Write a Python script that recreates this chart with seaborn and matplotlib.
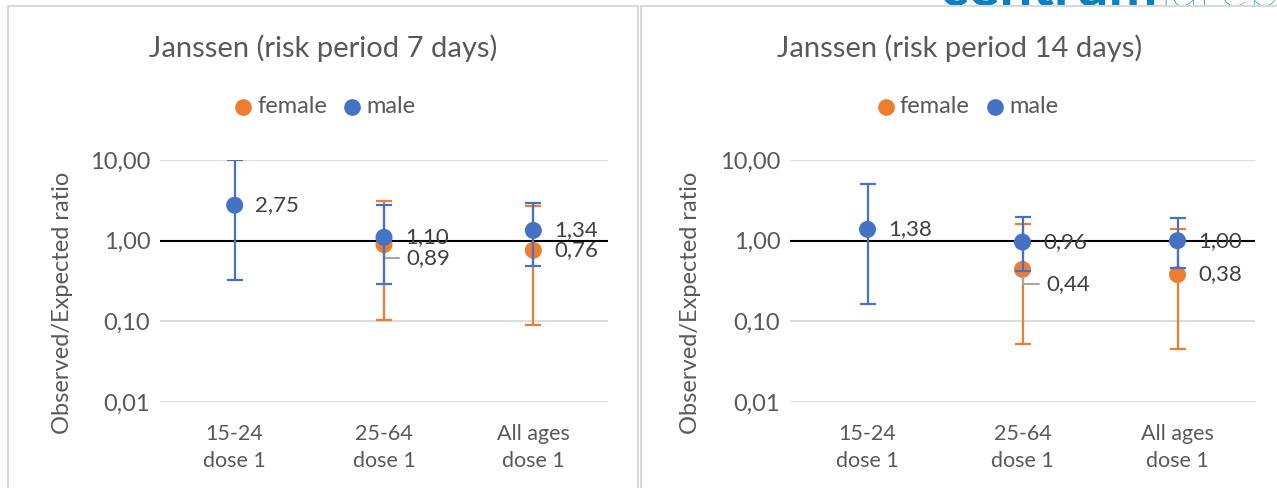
import numpy as np
import pandas as pd
import matplotlib
matplotlib.use("Agg")
import matplotlib.pyplot as plt
import seaborn as sns
from matplotlib.lines import Line2D

# ---------------- data ----------------
categories = ["15-24\ndose 1", "25-64\ndose 1", "All ages\ndose 1"]
series = ["female", "male"]

titles = ["Janssen (risk period 7 days)", "Janssen (risk period 14 days)"]

# risk period 7 days
female_7 = [np.nan, 0.89, 0.76]
female_7_lo = [np.nan, 0.105, 0.09]
female_7_hi = [np.nan, 3.13, 2.69]
male_7 = [2.75, 1.10, 1.34]
male_7_lo = [0.33, 0.29, 0.485]
male_7_hi = [10.0, 2.79, 2.90]

# risk period 14 days
female_14 = [np.nan, 0.44, 0.38]
female_14_lo = [np.nan, 0.053, 0.045]
female_14_hi = [np.nan, 1.61, 1.39]
male_14 = [1.38, 0.96, 1.00]
male_14_lo = [0.166, 0.42, 0.46]
male_14_hi = [5.0, 1.96, 1.91]

y_ticks = [0.01, 0.1, 1, 10]
y_ticklabels = ["0,01", "0,10", "1,00", "10,00"]
y_label = "Observed/Expected ratio"

# ---------------- style ----------------
ORANGE = "#ED7D31"
BLUE = "#4472C4"
TEXT = "#595959"
LABEL = "#404040"
GRID = "#D9D9D9"
FONT = ["Lato", "DejaVu Sans"]

sns.set_theme(style="white")
plt.rcParams["font.family"] = FONT

W, H = 1277, 488
fig = plt.figure(figsize=(W / 100, H / 100), dpi=100)
fig.patch.set_facecolor("white")


def fx(px):
    return px / W


def fy(py):
    return 1 - py / H


# chart frames
for x0, x1 in [(8, 638), (641, 1290)]:
    fig.add_artist(plt.Rectangle((fx(x0), fy(500)), fx(x1 - x0), fy(6) - fy(500),
                                 transform=fig.transFigure, fill=False,
                                 edgecolor="#D9D9D9", linewidth=1.5))

# partial logo at top right (cut off by the top edge)
renderer = fig.canvas.get_renderer()
logo1 = fig.text(fx(940), fy(6), "centrum", color="#0A7FC1", fontsize=42,
                 fontweight="bold", family=["Lato", "DejaVu Sans"],
                 va="baseline", ha="left", zorder=0)
bb = logo1.get_window_extent(renderer=renderer)
fig.text(bb.x1 / W + fx(2), fy(6), "lareb", color="#0A7FC1", fontsize=42,
         fontweight="light", family=["Lato", "DejaVu Sans"], va="baseline",
         ha="left", zorder=0)

panels = [
    dict(title=titles[0], f=female_7, flo=female_7_lo, fhi=female_7_hi,
         m=male_7, mlo=male_7_lo, mhi=male_7_hi, ax=(160, 608), tx=323,
         leg=(243, 352), ylab=(73, 303)),
    dict(title=titles[1], f=female_14, flo=female_14_lo, fhi=female_14_hi,
         m=male_14, mlo=male_14_lo, mhi=male_14_hi, ax=(790, 1255), tx=960,
         leg=(886, 995), ylab=(701, 303)),
]

# label offsets (points): (dx, dy, leader)
label_style = {
    (0, "female", 1): (16, -9.5, True),
    (1, "female", 1): (17, -10.5, True),
}


def fmt(v):
    return f"{v:.2f}".replace(".", ",")


for pi, p in enumerate(panels):
    x0, x1 = p["ax"]
    ax = fig.add_axes([fx(x0), fy(402), fx(x1 - x0), fy(160) - fy(402)])
    ax.set_yscale("log")
    ax.set_ylim(0.01, 10)
    ax.set_xlim(-0.5, 2.5)
    for s in ax.spines.values():
        s.set_visible(False)
    ax.set_yticks(y_ticks)
    ax.set_yticklabels(y_ticklabels)
    ax.yaxis.set_minor_locator(matplotlib.ticker.NullLocator())
    ax.set_xticks(range(len(categories)))
    ax.set_xticklabels(categories, linespacing=1.4)
    ax.tick_params(axis="y", length=0, colors=TEXT, labelsize=17, pad=7)
    ax.tick_params(axis="x", length=0, colors=TEXT, labelsize=15.5, pad=16)
    ax.grid(axis="y", color=GRID, linewidth=1.3)
    ax.set_axisbelow(True)
    ax.axhline(1, color="black", linewidth=1.5, zorder=2)
    ax.set_ylabel(y_label, fontsize=17, color=TEXT)
    ax.yaxis.set_label_coords(fx(p["ylab"][0]), fy(p["ylab"][1]),
                              transform=fig.transFigure)

    x = np.arange(len(categories))
    df = pd.DataFrame({
        "cat": list(x) * 2,
        "val": list(p["f"]) + list(p["m"]),
        "lo": list(p["flo"]) + list(p["mlo"]),
        "hi": list(p["fhi"]) + list(p["mhi"]),
        "sex": ["female"] * 3 + ["male"] * 3,
    })
    z = 3
    for sname, col in [("female", ORANGE), ("male", BLUE)]:
        d = df[df["sex"] == sname].dropna()
        ax.errorbar(d["cat"], d["val"], yerr=[d["val"] - d["lo"], d["hi"] - d["val"]],
                    fmt="none", ecolor=col, elinewidth=1.6, capsize=6,
                    capthick=1.6, zorder=z)
        sns.scatterplot(data=d, x="cat", y="val", color=col, s=150,
                        edgecolor="none", ax=ax, zorder=z + 1, legend=False)
        for _, r in d.iterrows():
            dx, dy, lead = label_style.get((pi, sname, int(r["cat"])), (15, 0, False))
            kw = dict(xy=(r["cat"], r["val"]), xytext=(dx, dy),
                      textcoords="offset points", ha="left", va="center",
                      fontsize=16, color=LABEL, zorder=z + 2)
            if lead:
                kw["arrowprops"] = dict(arrowstyle="-", color="#A6A6A6", lw=1.5,
                                        connectionstyle="angle,angleA=0,angleB=90",
                                        shrinkA=3, shrinkB=5.5)
            ax.annotate(fmt(r["val"]), **kw)
        z += 3
    ax.set_xlabel("")

    # title
    fig.text(fx(p["tx"]), fy(48), p["title"], ha="center", va="center",
             fontsize=21, color=TEXT)
    # legend
    for lx, name, col in zip(p["leg"], series, [ORANGE, BLUE]):
        fig.add_artist(Line2D([fx(lx)], [fy(107)], marker="o", markersize=11,
                              color=col, linestyle="none",
                              transform=fig.transFigure))
        fig.text(fx(lx + 14), fy(107), name, ha="left", va="center",
                 fontsize=17, color=TEXT)

fig.savefig("out.png", dpi=100, facecolor="white")
